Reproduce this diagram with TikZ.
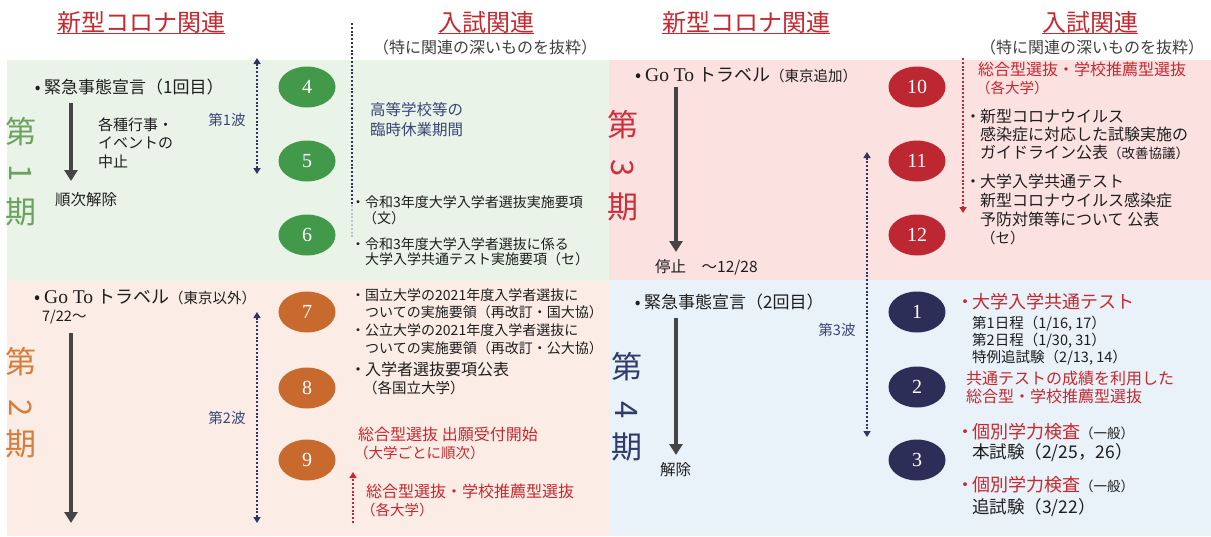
\documentclass[tikz,border=0pt]{standalone}
\usepackage{fontspec}
\usepackage{graphicx}
\setmainfont{Noto Sans CJK JP}
\newfontfamily\latserif{Liberation Serif}
\usetikzlibrary{shapes.geometric,arrows.meta}
\definecolor{bgA}{HTML}{E9F3E8}
\definecolor{bgB}{HTML}{FBEDE5}
\definecolor{bgC}{HTML}{FCE1E1}
\definecolor{bgD}{HTML}{E9F1F9}
\definecolor{elG}{HTML}{43994A}
\definecolor{elO}{HTML}{C86A2E}
\definecolor{elR}{HTML}{BD2732}
\definecolor{elN}{HTML}{2C2E58}
\definecolor{perG}{HTML}{6AA35E}
\definecolor{perO}{HTML}{D77D3C}
\definecolor{perR}{HTML}{C9323C}
\definecolor{perN}{HTML}{303A6B}
\definecolor{redT}{HTML}{C5282F}
\definecolor{navT}{HTML}{3B4677}
\definecolor{waveN}{HTML}{2E3466}
\definecolor{arrG}{HTML}{454545}
\definecolor{txtK}{HTML}{1E1E1E}
\newcommand{\fz}[2]{\fontsize{#1pt}{#2pt}\selectfont}
\newcommand{\mybul}[1]{\makebox[#1][c]{・}}
\newcommand{\dotb}[1]{\makebox[#1][c]{•}}
\begin{document}
\begin{tikzpicture}[x=1pt,y=-1pt,
  hdr/.style={inner sep=0pt,text=redT,font=\fz{24}{26}},
  hdrline/.style={draw=redT,line width=1.4pt},
  subt/.style={inner sep=0pt,text=txtK!85,font=\fz{16}{18}},
  per/.style={inner sep=0pt,font=\fz{31}{31}},
  num/.style={ellipse,minimum width=57pt,minimum height=41pt,inner sep=0pt,text=white,font=\latserif\fz{20}{20}},
  tw/.style={anchor=west,inner sep=0pt,text=txtK},
  tnw/.style={anchor=north west,inner sep=0pt,align=left,text=txtK},
  bigarrow/.style={draw=arrG,line width=4pt,-{Triangle[width=13pt,length=11pt]}},
  wave/.style={draw=waveN,line width=2pt,dash pattern=on 2pt off 1.8pt,{Triangle[width=7pt,length=6pt]}-{Triangle[width=7pt,length=6pt]}},
  wavelbl/.style={inner sep=0pt,text=navT,font=\fz{14.5}{16}},
  redarrow/.style={draw=redT,line width=2pt,dash pattern=on 2pt off 1.8pt,-{Triangle[width=7pt,length=6pt]}},
  closure/.style={draw=waveN,line width=2.2pt,dash pattern=on 2pt off 1.8pt}
]
\useasboundingbox (0,0) rectangle (1211,536);
% panels
\fill[bgA] (7,60) rectangle (609,281);
\fill[bgB] (7,281) rectangle (609,536);
\fill[bgC] (609,60) rectangle (1211,280);
\fill[bgD] (609,280) rectangle (1211,536);

% headers
\node[hdr] (h1) at (141,22) {新型コロナ関連};
\draw[hdrline] (h1.south west) -- (h1.south east);
\node[hdr] (h2) at (486,22) {入試関連};
\draw[hdrline] (h2.south west) -- (h2.south east);
\node[subt] (s2) at (485,47) {（特に関連の深いものを抜粋）};
\node[hdr] (h3) at (746,22) {新型コロナ関連};
\draw[hdrline] (h3.south west) -- (h3.south east);
\node[hdr] (h4) at (1090,22) {入試関連};
\draw[hdrline] (h4.south west) -- (h4.south east);
\node[subt] (s4) at (1092,47) {（特に関連の深いものを抜粋）};

% period labels
\node[per,text=perG] (p1a) at (21,132) {第};
\node[per,text=perG,rotate=-90] (p1b) at (21,173) {1};
\node[per,text=perG] (p1c) at (21,212) {期};
\node[per,text=perO] (p2a) at (21,362) {第};
\node[per,text=perO,rotate=-90] (p2b) at (21,408) {2};
\node[per,text=perO] (p2c) at (21,444) {期};
\node[per,text=perR] (p3a) at (623,125) {第};
\node[per,text=perR,rotate=-90] (p3b) at (623,168) {3};
\node[per,text=perR] (p3c) at (623,207) {期};
\node[per,text=perN] (p4a) at (627,367) {第};
\node[per,text=perN,rotate=-90] (p4b) at (627,410) {4};
\node[per,text=perN] (p4c) at (627,447) {期};

% ===== Panel 1 =====
\node[tw,font=\fz{17}{20}] (k1) at (31,87) {\dotb{13pt}緊急事態宣言（1回目）};
\coordinate (a1s) at (71,103);
\coordinate (a1e) at (71,181);
\draw[bigarrow] (a1s) -- (a1e);
\node[tnw,font=\fz{15}{18.5}] (gy) at (98,117.5) {各種行事・\\イベントの\\中止};
\node[tw,font=\fz{15.5}{18}] (jy) at (55,200) {順次解除};
\coordinate (w1s) at (257,58);
\coordinate (w1e) at (257,174);
\draw[wave] (w1s) -- (w1e);
\node[wavelbl] (w1l) at (227,120) {第1波};
\coordinate (cl1) at (352,23);
\coordinate (cl2) at (352,205);
\coordinate (cl3) at (352,238);
\draw[closure] (cl1) -- (cl2);
\draw[closure,draw=waveN!30] (cl2) -- (cl3);
\node[tnw,text=navT,font=\fz{15.5}{20}] (kk) at (370,102) {高等学校等の\\臨時休業期間};
\node[tnw,font=\fz{14}{16.5}] (r1) at (351,195) {\mybul{14pt}令和3年度大学入学者選抜実施要項\\\hspace*{12pt}（文）};
\node[tnw,font=\fz{14}{15.5}] (r2) at (351,237) {\mybul{14pt}令和3年度大学入学者選抜に係る\\\hspace*{14pt}大学入学共通テスト実施要項（セ）};
\node[num,fill=elG] (n4) at (307,87) {4};
\node[num,fill=elG] (n5) at (307,161) {5};
\node[num,fill=elG] (n6) at (307,235) {6};

% ===== Panel 2 =====
\node[tw,font=\fz{18}{20}] (g1) at (31,297) {\dotb{13pt}{\latserif\fz{19.5}{20}Go To} トラベル{\fz{14.5}{20}（東京以外）}};
\node[tw,font=\fz{14.5}{16}] (d1) at (42,317) {7/22〜};
\coordinate (a2s) at (71,333);
\coordinate (a2e) at (71,523);
\draw[bigarrow] (a2s) -- (a2e);
\coordinate (w2s) at (257,312);
\coordinate (w2e) at (257,523);
\draw[wave] (w2s) -- (w2e);
\node[wavelbl] (w2l) at (227,418) {第2波};
\node[tnw,font=\fz{14}{17.7}] (kr) at (351,288) {\mybul{14pt}国立大学の2021年度入学者選抜に\\\hspace*{14pt}ついての実施要領（再改訂・国大協）\\\mybul{14pt}公立大学の2021年度入学者選抜に\\\hspace*{14pt}ついての実施要領（再改訂・公大協）};
\node[tnw,font=\fz{16}{18}] (ny) at (351,362) {\mybul{14pt}入学者選抜要項公表\\\hspace*{12pt}{\fz{14.5}{18}（各国立大学）}};
\node[tnw,text=redT,font=\fz{16}{18}] (sg1) at (358,427) {総合型選抜 出願受付開始\\\hspace*{-4pt}{\fz{14.5}{18}（大学ごとに順次）}};
\node[tnw,text=redT,font=\fz{16}{18}] (sg2) at (366,484) {総合型選抜・学校推薦型選抜\\\hspace*{-5pt}{\fz{14.5}{18}（各大学）}};
\coordinate (ra1s) at (353,523);
\coordinate (ra1e) at (353,472);
\draw[redarrow] (ra1s) -- (ra1e);
\node[num,fill=elO] (n7) at (307,312) {7};
\node[num,fill=elO] (n8) at (307,388) {8};
\node[num,fill=elO] (n9) at (307,460) {9};

% ===== Panel 3 =====
\node[tw,font=\fz{18}{20}] (g2) at (632,75) {\dotb{13pt}{\latserif\fz{19.5}{20}Go To} トラベル{\fz{14.5}{20}（東京追加）}};
\coordinate (a3s) at (676,87);
\coordinate (a3e) at (676,252);
\draw[bigarrow] (a3s) -- (a3e);
\node[tw,font=\fz{15.5}{18}] (st) at (655,267) {停止　〜12/28};
\coordinate (w3s) at (867,152);
\coordinate (w3e) at (867,437);
\draw[wave] (w3s) -- (w3e);
\node[wavelbl] (w3l) at (837,330) {第3波};
\node[tnw,text=redT,font=\fz{16}{18}] (sg3) at (978,62) {総合型選抜・学校推薦型選抜\\\hspace*{-2pt}{\fz{14.5}{18}（各大学）}};
\coordinate (ra2s) at (963,58);
\coordinate (ra2e) at (963,213);
\draw[redarrow] (ra2s) -- (ra2e);
\node[tnw,font=\fz{16}{18}] (gl) at (966,109) {\mybul{14pt}新型コロナウイルス\\\hspace*{14pt}感染症に対応した試験実施の\\\hspace*{14pt}ガイドライン公表{\fz{13.5}{18}（改善協議）}};
\node[tnw,font=\fz{16}{18.7}] (kc) at (966,174) {\mybul{14pt}大学入学共通テスト\\\hspace*{14pt}新型コロナウイルス感染症\\\hspace*{14pt}予防対策等について 公表\\\hspace*{15pt}{\fz{14.5}{18.7}（セ）}};
\node[num,fill=elR] (n10) at (917,87) {10};
\node[num,fill=elR] (n11) at (917,161) {11};
\node[num,fill=elR] (n12) at (917,235) {12};

% ===== Panel 4 =====
\node[tw,font=\fz{17}{20}] (k2) at (631,302) {\dotb{13pt}緊急事態宣言（2回目）};
\coordinate (a4s) at (676,318);
\coordinate (a4e) at (676,455);
\draw[bigarrow] (a4s) -- (a4e);
\node[tw,font=\fz{15.5}{18}] (kj) at (660,470) {解除};
\node[tw,text=redT,font=\fz{18}{20}] (kt) at (958,302) {\mybul{14pt}大学入学共通テスト};
\node[tnw,font=\fz{14.5}{17}] (dt) at (972,316) {第1日程（1/16, 17）\\第2日程（1/30, 31）\\特例追試験（2/13, 14）};
\node[tnw,text=redT,font=\fz{16}{18}] (ks) at (966,371) {共通テストの成績を利用した\\総合型・学校推薦型選抜};
\node[tw,text=redT,font=\fz{18}{20}] (kb1) at (958,432) {\mybul{14pt}個別学力検査{\color{txtK}\fz{13.5}{20}（一般）}};
\node[tw,font=\fz{17.5}{20}] (hs) at (972,453) {本試験（2/25，26）};
\node[tw,text=redT,font=\fz{18}{20}] (kb2) at (958,485) {\mybul{14pt}個別学力検査{\color{txtK}\fz{13.5}{20}（一般）}};
\node[tw,font=\fz{17.5}{20}] (ts) at (972,508) {追試験（3/22）};
\node[num,fill=elN] (n1) at (917,312) {1};
\node[num,fill=elN] (n2) at (917,387) {2};
\node[num,fill=elN] (n3) at (917,460) {3};
\end{tikzpicture}
\end{document}
